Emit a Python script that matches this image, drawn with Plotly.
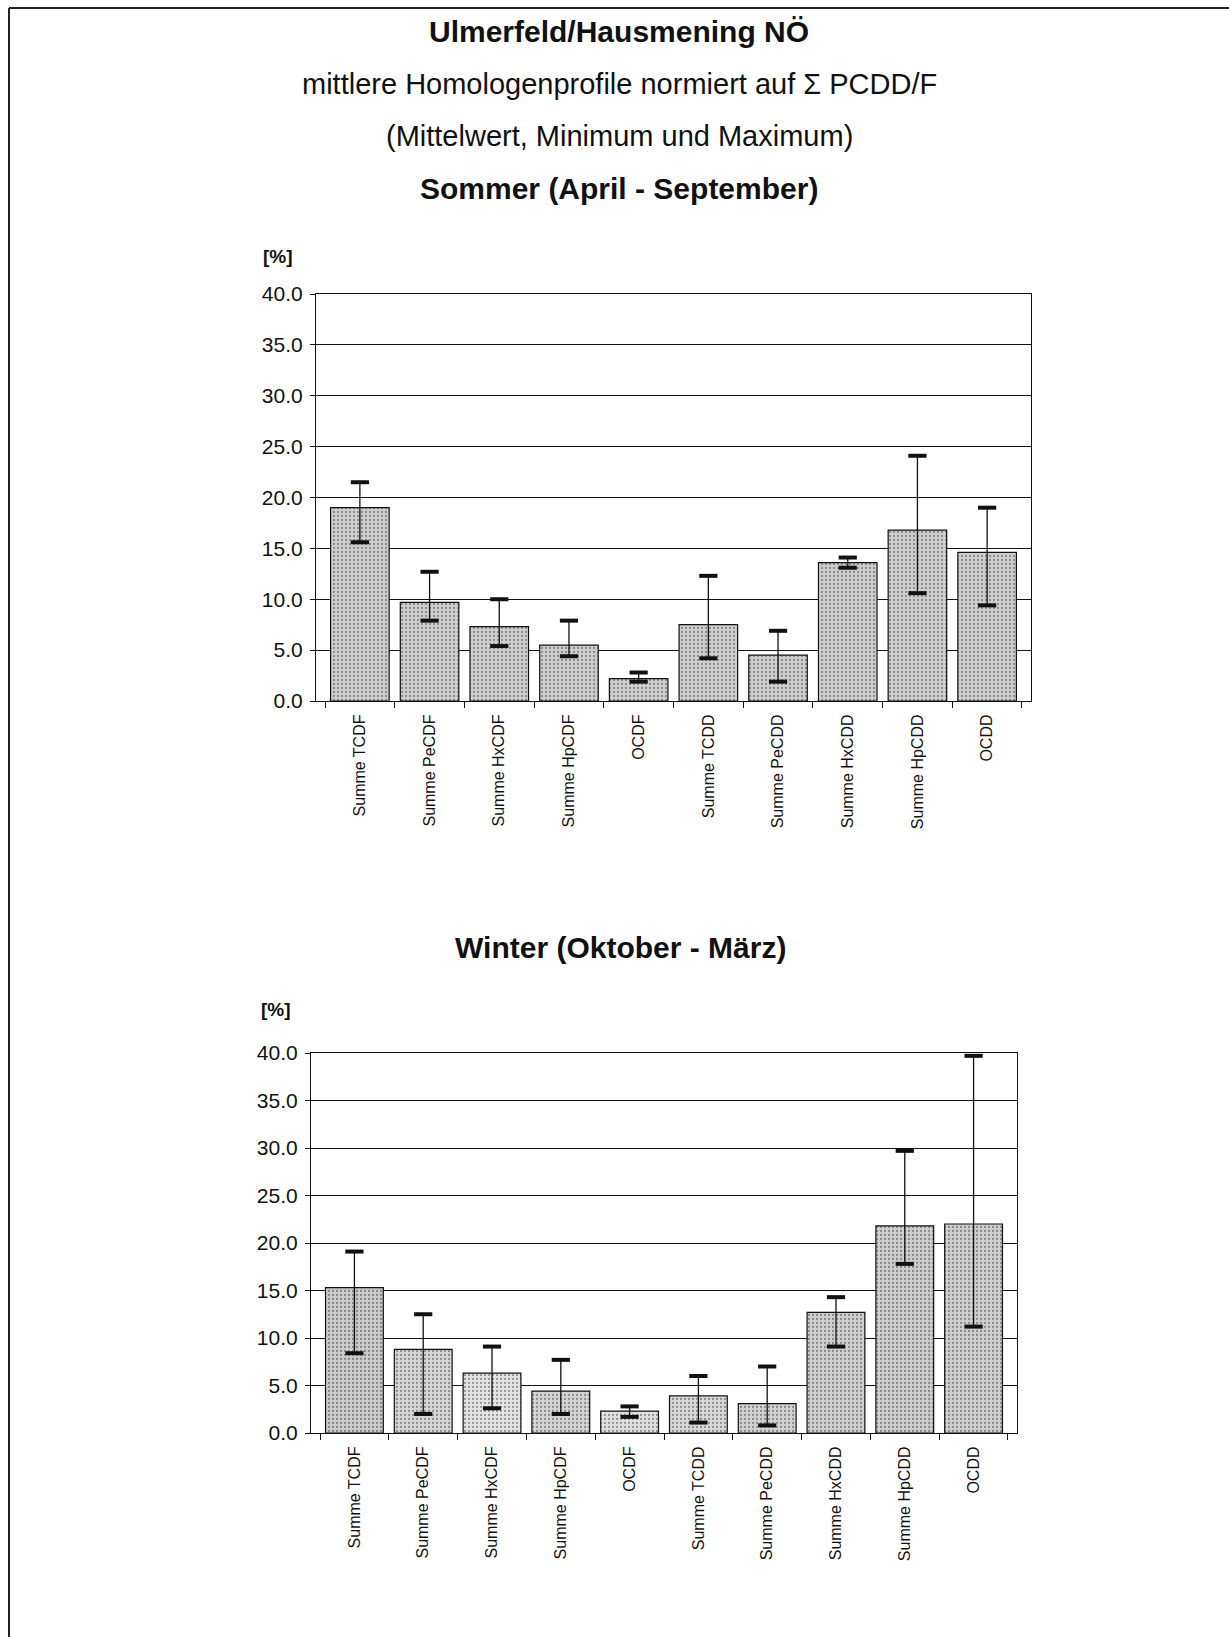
import plotly.graph_objects as go

categories = ["Summe TCDF", "Summe PeCDF", "Summe HxCDF", "Summe HpCDF", "OCDF",
              "Summe TCDD", "Summe PeCDD", "Summe HxCDD", "Summe HpCDD", "OCDD"]

sommer_mean = [19.0, 9.7, 7.3, 5.5, 2.2, 7.5, 4.5, 13.6, 16.8, 14.6]
sommer_min = [15.6, 7.9, 5.4, 4.4, 1.9, 4.2, 1.9, 13.1, 10.6, 9.4]
sommer_max = [21.5, 12.7, 10.0, 7.9, 2.8, 12.3, 6.9, 14.1, 24.1, 19.0]

winter_mean = [15.3, 8.8, 6.3, 4.4, 2.3, 3.9, 3.1, 12.7, 21.8, 22.0]
winter_min = [8.4, 2.0, 2.6, 2.0, 1.7, 1.1, 0.8, 9.1, 17.8, 11.2]
winter_max = [19.1, 12.5, 9.1, 7.7, 2.8, 6.0, 7.0, 14.3, 29.7, 39.7]

y_ticks = [0, 5, 10, 15, 20, 25, 30, 35, 40]
y_tick_labels = ["0.0", "5.0", "10.0", "15.0", "20.0", "25.0", "30.0", "35.0", "40.0"]

sommer_colors = ["#cfcfcf"] * 10
winter_colors = ["#cbcbcb", "#d6d6d6", "#e6e6e6", "#d4d4d4", "#e2e2e2",
                 "#d8d8d8", "#d2d2d2", "#cfcfcf", "#cdcdcd", "#cfcfcf"]

W, H = 1229, 1637
FONT = "Liberation Sans, Arial, sans-serif"

fig = go.Figure()


def add_panel(mean, mn, mx, colors, xa, ya):
    fig.add_trace(go.Bar(
        x=categories, y=mean, xaxis=xa, yaxis=ya,
        marker=dict(color=colors, line=dict(color="#111", width=1.2),
                    pattern=dict(shape=".", fgcolor="#8a8a8a", size=4,
                                 solidity=0.25, fillmode="overlay")),
        error_y=dict(type="data", symmetric=False,
                     array=[a - m for a, m in zip(mx, mean)],
                     arrayminus=[m - b for m, b in zip(mean, mn)],
                     color="#111", thickness=1.3, width=0),
        showlegend=False, hoverinfo="skip"))
    fig.add_trace(go.Scatter(
        x=categories + categories, y=mn + mx, xaxis=xa, yaxis=ya,
        mode="markers",
        marker=dict(symbol="line-ew", size=13, line=dict(color="#111", width=4)),
        showlegend=False, hoverinfo="skip"))


add_panel(sommer_mean, sommer_min, sommer_max, sommer_colors, "x", "y")
add_panel(winter_mean, winter_min, winter_max, winter_colors, "x2", "y2")


def px_x(v):
    return v / W


def px_y(v):
    return 1 - v / H


xcommon = dict(type="category", showline=True, linecolor="#111", linewidth=1.2,
               mirror=True, ticks="outside", ticklen=6, tickcolor="#111",
               tickson="boundaries", tickangle=-90, showgrid=False,
               tickfont=dict(family=FONT, size=16, color="#111"),
               ticklabelstandoff=6, fixedrange=True, automargin=False)
ycommon = dict(range=[0, 40], tickvals=y_ticks, ticktext=y_tick_labels,
               showline=True, linecolor="#111", linewidth=1.2, mirror=True,
               ticks="outside", ticklen=5, tickcolor="#111",
               showgrid=True, gridcolor="#111", gridwidth=1.3,
               zeroline=False, tickfont=dict(family=FONT, size=21, color="#111"),
               ticklabelstandoff=3, fixedrange=True, automargin=False)

fig.update_layout(
    template="none",
    width=W, height=H, autosize=False,
    margin=dict(l=0, r=0, t=0, b=0, pad=0),
    paper_bgcolor="white", plot_bgcolor="white",
    bargap=0.16,
    xaxis=dict(domain=[px_x(316), px_x(1031)], anchor="y", **xcommon),
    yaxis=dict(domain=[px_y(701), px_y(294)], anchor="x", **ycommon),
    xaxis2=dict(domain=[px_x(311), px_x(1017)], anchor="y2", **xcommon),
    yaxis2=dict(domain=[px_y(1433), px_y(1053)], anchor="x2", **ycommon),
)


def text(t, x, y, size, bold=False):
    fig.add_annotation(text=f"<b>{t}</b>" if bold else t,
                       x=px_x(x), y=px_y(y), xref="paper", yref="paper",
                       xanchor="center", yanchor="middle", showarrow=False,
                       font=dict(family=FONT, size=size, color="#111"))


text("Ulmerfeld/Hausmening NÖ", 619, 31, 30, bold=True)
text("mittlere Homologenprofile normiert auf Σ PCDD/F", 619, 84, 29)
text("(Mittelwert, Minimum und Maximum)", 619, 136, 29)
text("Sommer (April - September)", 619, 188, 30, bold=True)
text("Winter (Oktober - März)", 620, 947, 30, bold=True)
text("[%]", 278, 256, 19, bold=True)
text("[%]", 276, 1009, 19, bold=True)

# page frame (left and top edges)
fig.add_shape(type="line", xref="paper", yref="paper",
              x0=px_x(9), y0=0, x1=px_x(9), y1=px_y(8),
              line=dict(color="#222", width=2))
fig.add_shape(type="line", xref="paper", yref="paper",
              x0=px_x(9), y0=px_y(8), x1=1, y1=px_y(8),
              line=dict(color="#222", width=2))

fig.write_html("out.html", config={"displayModeBar": False},
               post_script="document.body.style.margin='0';document.body.style.overflow='hidden';")
